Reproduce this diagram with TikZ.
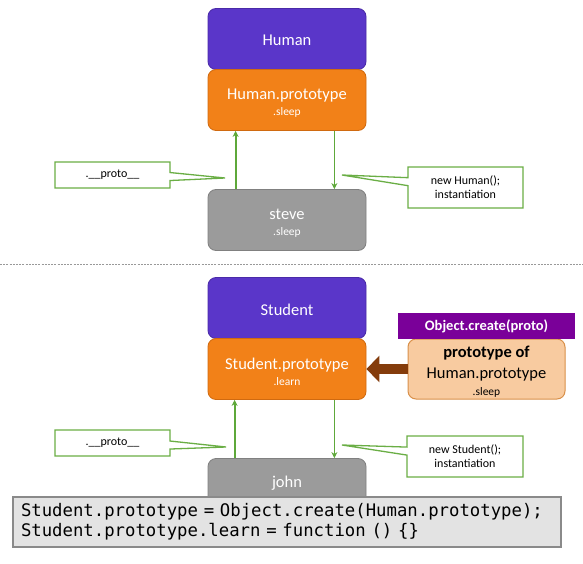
\documentclass[tikz,border=0pt]{standalone}
\usepackage{fontspec}
\setmainfont{Carlito}
\newfontfamily\codefont{DejaVu Sans Mono}
\usetikzlibrary{arrows.meta,shapes.callouts}
\definecolor{clsfill}{HTML}{5A36C9}
\definecolor{clsdraw}{HTML}{4A2AA8}
\definecolor{orfill}{HTML}{F28118}
\definecolor{ordraw}{HTML}{D06A10}
\definecolor{gyfill}{HTML}{9B9B9B}
\definecolor{gydraw}{HTML}{808080}
\definecolor{notegreen}{HTML}{6AAE45}
\definecolor{linkgreen}{HTML}{5EA83A}
\definecolor{peach}{HTML}{F8CBA0}
\definecolor{peachdraw}{HTML}{D9904A}
\definecolor{objpurple}{HTML}{7A0099}
\definecolor{brownarrow}{HTML}{843C0C}
\definecolor{codefill}{HTML}{E3E3E3}
\definecolor{codedraw}{HTML}{8A8A8A}
\newcommand\subline{\fontsize{11.5}{16}\selectfont}
\tikzset{
  box/.style={rounded corners=8pt, minimum width=158pt, minimum height=61pt,
    draw, line width=0.8pt, inner sep=0pt},
  boxtext/.style={text=white, align=center, inner sep=0pt,
    font=\fontsize{16.5}{16}\selectfont},
  classbox/.style={box, fill=clsfill, draw=clsdraw},
  protobox/.style={box, fill=orfill, draw=ordraw},
  instbox/.style={box, fill=gyfill, draw=gydraw},
  note/.style={rectangle callout, draw=notegreen, line width=1.3pt, fill=white,
    align=center, inner sep=0pt, callout pointer width=8pt,
    font=\fontsize{12}{14}\selectfont},
  link/.style={draw=linkgreen, line width=1.8pt, -{Stealth[length=6pt,width=6pt]}},
  codebox/.style={fill=codefill, draw=codedraw, line width=1.2pt,
    minimum width=548pt, minimum height=50pt, text width=532pt, align=left,
    inner xsep=8pt, inner ysep=0pt, font=\codefont\fontsize{17.3}{20}\selectfont},
}
\begin{document}
\begin{tikzpicture}[x=1pt,y=-1pt]
\useasboundingbox (0,0) rectangle (583,564);
\fill[white] (0,0) rectangle (583,564);

% ---------- top part ----------
\node[classbox] (human) at (287,39) {};
\node[boxtext] (humanT) at (287,40.5) {Human};
\node[protobox] (hproto) at (287,100) {};
\node[boxtext] (hprotoT) at (287,103) {Human.prototype\\{\subline .sleep}};
\node[instbox] (steve) at (287,220) {};
\node[boxtext] (steveT) at (287,223) {steve\\{\subline .sleep}};

\draw[link] ([xshift=28pt]steve.north west) -- ([xshift=28pt]hproto.south west);
\draw[link] ([xshift=-32pt]hproto.south east) -- ([xshift=-32pt]steve.north east);

\coordinate (t1) at (225,178);
\coordinate (t2) at (342,175);
\node[note, minimum width=115pt, minimum height=26pt, callout absolute pointer={(t1)}]
  (n1) at (112.5,175) {.\_\_proto\_\_};
\node[note, minimum width=115pt, minimum height=41pt, callout absolute pointer={(t2)}]
  (n2) at (465.5,187.5) {new Human();\\instantiation};

% separator
\draw[gray!80, line width=1pt, dash pattern=on 2pt off 1.2pt] (0,264) -- (583,264);

% ---------- bottom part ----------
\node[classbox] (student) at (287,308) {};
\node[boxtext] (studentT) at (287,309.5) {Student};
\node[protobox] (sproto) at (287,369) {};
\node[boxtext] (sprotoT) at (287,372) {Student.prototype\\{\subline .learn}};
\node[instbox] (john) at (287,489) {};
\node[boxtext] (johnT) at (287,483) {john};

\node[draw=peachdraw, fill=peach, rounded corners=8pt, line width=1pt,
  minimum width=157pt, minimum height=60pt, inner sep=0pt]
  (pof) at (486.5,369) {};
\node[align=center, inner sep=0pt, font=\fontsize{16.5}{21}\selectfont]
  (pofT) at (486.5,372) {\textbf{prototype of}\\Human.prototype\\[-4pt]{\subline .sleep}};
\node[fill=objpurple, text=white, minimum width=177pt, minimum height=26pt,
  inner sep=0pt, font=\bfseries\fontsize{14.5}{16}\selectfont]
  (objc) at (486.5,326) {Object.create(proto)};

\draw[brownarrow, line width=10pt, -{Triangle[length=13pt,width=26pt]}]
  (pof.west) -- (sproto.east);

\draw[link] ([xshift=27pt]john.north west) -- ([xshift=27pt]sproto.south west);
\draw[link] ([xshift=-32pt]sproto.south east) -- ([xshift=-32pt]john.north east);

\coordinate (t3) at (226,447);
\coordinate (t4) at (342,445);
\node[note, minimum width=115pt, minimum height=26pt, callout absolute pointer={(t3)}]
  (n3) at (112.5,443) {.\_\_proto\_\_};
\node[note, minimum width=116pt, minimum height=41pt, callout absolute pointer={(t4)}]
  (n4) at (465,456.5) {new Student();\\instantiation};

% code
\node[codebox] (code) at (287,522)
  {Student.prototype = Object.create(Human.prototype);\\
   Student.prototype.learn = function () \{\}};
\end{tikzpicture}
\end{document}
